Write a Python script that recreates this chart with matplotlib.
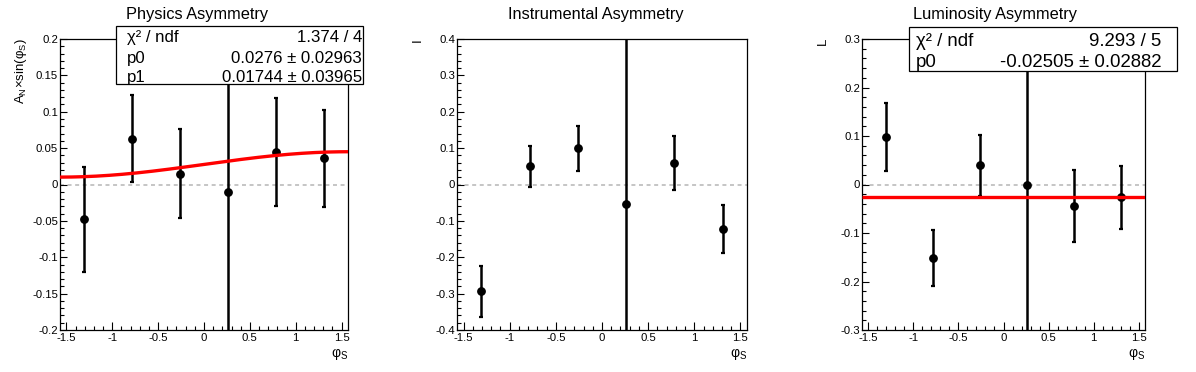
import numpy as np
import matplotlib
matplotlib.use("Agg")
import matplotlib.pyplot as plt
from matplotlib.patches import Rectangle
from matplotlib.ticker import MultipleLocator, FixedLocator, FuncFormatter

plt.rcParams['font.family'] = ['Liberation Sans', 'DejaVu Sans']
plt.rcParams['mathtext.fontset'] = 'custom'
plt.rcParams['mathtext.rm'] = 'Liberation Sans'
plt.rcParams['mathtext.it'] = 'Liberation Sans:italic'
plt.rcParams['mathtext.bf'] = 'Liberation Sans:bold'
plt.rcParams['axes.unicode_minus'] = False

# ---------------- data ----------------
phi_s = [-1.309, -0.785, -0.262, 0.262, 0.785, 1.309]

phys_vals = [-0.048, 0.063, 0.015, -0.010, 0.045, 0.036]
phys_errs = [0.072, 0.060, 0.061, 0.60, 0.074, 0.067]

inst_vals = [-0.294, 0.050, 0.100, -0.054, 0.059, -0.123]
inst_errs = [0.069, 0.057, 0.062, 0.90, 0.075, 0.066]

lumi_vals = [0.098, -0.151, 0.040, 0.000, -0.044, -0.026]
lumi_errs = [0.070, 0.058, 0.063, 0.70, 0.074, 0.065]

# fit parameters (shown in stats boxes)
phys_p0, phys_p1 = 0.0276, 0.01744
lumi_p0 = -0.02505

titles = ["Physics Asymmetry", "Instrumental Asymmetry", "Luminosity Asymmetry"]
ylabels = [r"A$_\mathrm{N}$×sin($\mathrm{φ}_\mathrm{S}$)", "I", "L"]
xlabel = r"$\mathrm{φ}_\mathrm{S}$"

x_ticks = [-1.5, -1, -0.5, 0, 0.5, 1, 1.5]
y_ticks_phys = [-0.2, -0.15, -0.1, -0.05, 0, 0.05, 0.1, 0.15, 0.2]
y_ticks_inst = [-0.4, -0.3, -0.2, -0.1, 0, 0.1, 0.2, 0.3, 0.4]
y_ticks_lumi = [-0.3, -0.2, -0.1, 0, 0.1, 0.2, 0.3]

stats_phys = [("χ² / ndf", "1.374 / 4"), ("p0", "0.0276 ± 0.02963"), ("p1", "0.01744 ± 0.03965")]
stats_lumi = [("χ² / ndf", "9.293 / 5"), ("p0", "-0.02505 ± 0.02882")]

# ---------------- figure ----------------
W, H = 1196, 372
fig = plt.figure(figsize=(W / 100, H / 100), dpi=100)


def fx(px):
    return px / W


def fy(py):
    return 1 - py / H


top_px, bot_px = 39, 330
axes_px = [(60, 348), (457, 747), (862, 1145)]
title_cx = [197, 596, 995]

fmt = FuncFormatter(lambda v, p: ("%g" % round(v, 6)) if abs(v) > 1e-9 else "0")

panels = [
    (phys_vals, phys_errs, y_ticks_phys, (-0.2, 0.2), 0.01),
    (inst_vals, inst_errs, y_ticks_inst, (-0.4, 0.4), 0.02),
    (lumi_vals, lumi_errs, y_ticks_lumi, (-0.3, 0.3), 0.02),
]

axs = []
for i, (vals, errs, yt, ylim, yminor) in enumerate(panels):
    l, r = axes_px[i]
    ax = fig.add_axes([fx(l), fy(bot_px), fx(r) - fx(l), fy(top_px) - fy(bot_px)])
    axs.append(ax)
    ax.set_xlim(-np.pi / 2, np.pi / 2)
    ax.set_ylim(*ylim)
    ax.axhline(0, color='#c0c0c0', lw=1.3, ls=(0, (2.2, 2.0)), zorder=1)
    ax.errorbar(phi_s, vals, yerr=errs, fmt='o', color='black', ms=5.3,
                elinewidth=1.8, capsize=1.6, capthick=1.6, zorder=3)
    ax.xaxis.set_major_locator(FixedLocator(x_ticks))
    ax.xaxis.set_minor_locator(MultipleLocator(0.1))
    ax.yaxis.set_major_locator(FixedLocator(yt))
    ax.yaxis.set_minor_locator(MultipleLocator(yminor))
    ax.xaxis.set_major_formatter(fmt)
    ax.yaxis.set_major_formatter(fmt)
    ax.tick_params(which='both', direction='in', top=False, right=False,
                   labelsize=8.2, width=0.8, colors='black')
    ax.tick_params(axis='x', which='major', length=5.8, pad=2)
    ax.tick_params(axis='x', which='minor', length=2.8)
    ax.tick_params(axis='y', which='major', length=5.2, pad=1.5)
    ax.tick_params(axis='y', which='minor', length=2.8)
    for s in ax.spines.values():
        s.set_linewidth(0.9)
    # title
    fig.text(fx(title_cx[i]), fy(18.8), titles[i], ha='center', va='baseline', fontsize=11.8)
    # y label
    fig.text(fx(l - 39), fy(38), ylabels[i], rotation=90, ha='center', va='top', fontsize=9.5)
    # x label
    fig.text(fx(r), fy(357), xlabel, ha='right', va='baseline', fontsize=10)

# fit curves
xf = np.linspace(-np.pi / 2, np.pi / 2, 200)
axs[0].plot(xf, phys_p0 + phys_p1 * np.sin(xf), color='#ff0000', lw=2.4, zorder=4,
            solid_capstyle='butt')
axs[2].plot(xf, np.full_like(xf, lumi_p0), color='#ff0000', lw=2.4, zorder=4,
            solid_capstyle='butt')


def stats_box(x0, y0, x1, y1, rows, xl, xr, baselines, fs):
    fig.add_artist(Rectangle((fx(x0), fy(y1)), fx(x1) - fx(x0), fy(y0) - fy(y1),
                             transform=fig.transFigure, facecolor='white',
                             edgecolor='black', lw=0.9, zorder=10))
    for (lab, val), b in zip(rows, baselines):
        fig.text(fx(xl), fy(b), lab, ha='left', va='baseline', fontsize=fs, zorder=11)
        fig.text(fx(xr), fy(b), val, ha='right', va='baseline', fontsize=fs, zorder=11)


stats_box(116, 26, 363, 84, stats_phys, 127, 362, [41.7, 63.3, 82.0], 12.1)
stats_box(909, 26.7, 1177, 70.7, stats_lumi, 916, 1161, [45.7, 66.7], 13.4)

fig.savefig("out.png", dpi=100)
